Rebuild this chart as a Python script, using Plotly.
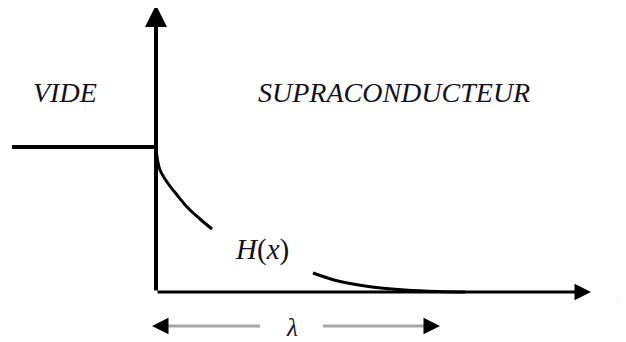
"""Champ magnetique H(x) a l'interface vide / supraconducteur."""

import plotly.graph_objects as go

# units: 1 unit = 1 px, origin at the foot of the vertical axis
vacuum_x = [-144, 0]
vacuum_h = [145, 145]

curve_near_x = [0, 1.5, 4, 11, 21, 31, 44, 56]
curve_near_h = [145, 132, 122, 110, 97, 85, 73, 63]
curve_far_x = [157, 182, 216, 249, 282, 309]
curve_far_h = [19, 11, 5, 2, 0.5, 0]

x_axis_end = 435
y_axis_end = 287

lambda_left = [-4, 104]
lambda_right = [167, 284]
lambda_level = -34

region_labels = ["VIDE", "SUPRACONDUCTEUR"]
region_label_x = [-91, 238]
region_label_y = 200

INK = "#111122"
SERIF = "Liberation Serif, Times New Roman, serif"

fig = go.Figure()

fig.add_trace(go.Scatter(x=vacuum_x, y=vacuum_h, mode="lines", line=dict(color="black", width=4)))
fig.add_trace(go.Scatter(x=curve_near_x, y=curve_near_h, mode="lines", line=dict(color="black", width=3, shape="spline")))
fig.add_trace(go.Scatter(x=curve_far_x, y=curve_far_h, mode="lines", line=dict(color="black", width=3, shape="spline")))

# lambda span: grey shafts, black heads
fig.add_trace(go.Scatter(x=[lambda_left[0] + 8, lambda_left[1]], y=[lambda_level] * 2, mode="lines",
                         line=dict(color="#a6a6a6", width=3)))
fig.add_trace(go.Scatter(x=[lambda_right[0], lambda_right[1] - 8], y=[lambda_level] * 2, mode="lines",
                         line=dict(color="#a6a6a6", width=3)))

arrows = [
    # (tip x, tip y, tail x, tail y, width)
    (0, y_axis_end, 0, 0, 4),
    (x_axis_end, 0, 0, 0, 3),
    (lambda_left[0], lambda_level, lambda_left[0] + 10, lambda_level, 3),
    (lambda_right[1], lambda_level, lambda_right[1] - 10, lambda_level, 3),
]
for tip_x, tip_y, tail_x, tail_y, width in arrows:
    fig.add_annotation(
        x=tip_x, y=tip_y, ax=tail_x, ay=tail_y, xref="x", yref="y", axref="x", ayref="y",
        text="", showarrow=True, arrowhead=2, arrowsize=1.1, arrowwidth=width, arrowcolor="black",
    )

for label, lx in zip(region_labels, region_label_x):
    fig.add_annotation(x=lx, y=region_label_y, text=label, showarrow=False,
                       font=dict(family=SERIF, size=28, color=INK, style="italic"))

fig.add_annotation(x=106, y=43, text="<i>H</i>(<i>x</i>)", showarrow=False,
                   font=dict(family=SERIF, size=29, color=INK))
fig.add_annotation(x=136, y=lambda_level - 1, text="λ", showarrow=False, borderpad=0,
                   font=dict(family=SERIF, size=25, color=INK, style="italic"))
fig.add_annotation(x=459, y=-1, text="x", showarrow=False, xanchor="left",
                   font=dict(family=SERIF, size=27, color=INK, style="italic"))

# the page body keeps its default 8px margin, so the figure sits 8px in
fig.update_layout(
    width=618,
    height=334,
    margin=dict(l=0, r=0, t=0, b=0),
    paper_bgcolor="white",
    plot_bgcolor="white",
    showlegend=False,
    hovermode=False,
)
fig.update_xaxes(range=[-148, 470], visible=False, fixedrange=True)
fig.update_yaxes(range=[-50, 284], visible=False, fixedrange=True)

fig.write_html("out.html", config={"displayModeBar": False})
